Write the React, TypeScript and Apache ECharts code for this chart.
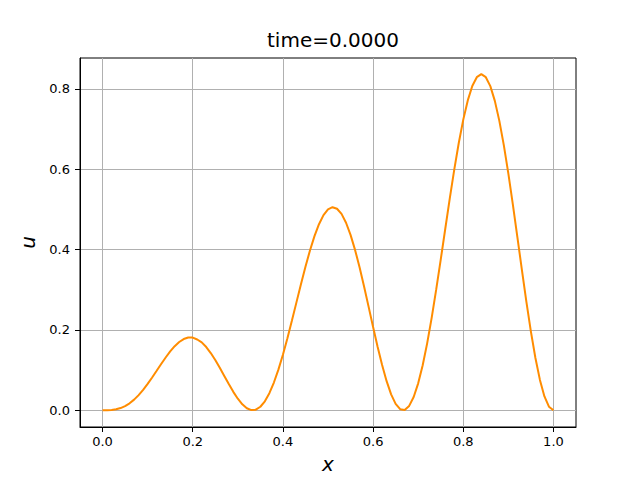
import React, { useEffect, useRef } from "react";
import * as echarts from "echarts";

const xValues = [
  0.00, 0.01, 0.02, 0.03, 0.04, 0.05, 0.06, 0.07, 0.08, 0.09,
  0.10, 0.11, 0.12, 0.13, 0.14, 0.15, 0.16, 0.17, 0.18, 0.19,
  0.20, 0.21, 0.22, 0.23, 0.24, 0.25, 0.26, 0.27, 0.28, 0.29,
  0.30, 0.31, 0.32, 0.33, 0.34, 0.35, 0.36, 0.37, 0.38, 0.39,
  0.40, 0.41, 0.42, 0.43, 0.44, 0.45, 0.46, 0.47, 0.48, 0.49,
  0.50, 0.51, 0.52, 0.53, 0.54, 0.55, 0.56, 0.57, 0.58, 0.59,
  0.60, 0.61, 0.62, 0.63, 0.64, 0.65, 0.66, 0.67, 0.68, 0.69,
  0.70, 0.71, 0.72, 0.73, 0.74, 0.75, 0.76, 0.77, 0.78, 0.79,
  0.80, 0.81, 0.82, 0.83, 0.84, 0.85, 0.86, 0.87, 0.88, 0.89,
  0.90, 0.91, 0.92, 0.93, 0.94, 0.95, 0.96, 0.97, 0.98, 0.99,
  1.00,
];
const uValues = [
  0.0000, 0.0001, 0.0007, 0.0023, 0.0054, 0.0103, 0.0172, 0.0263, 0.0375, 0.0506,
  0.0655, 0.0815, 0.0982, 0.1151, 0.1313, 0.1463, 0.1594, 0.1698, 0.1772, 0.1809,
  0.1809, 0.1761, 0.1689, 0.1573, 0.1424, 0.1250, 0.1056, 0.0853, 0.0650, 0.0457,
  0.0287, 0.0148, 0.0050, 0.0003, 0.0013, 0.0086, 0.0222, 0.0424, 0.0689, 0.1010,
  0.1382, 0.1793, 0.2232, 0.2685, 0.3137, 0.3573, 0.3977, 0.4334, 0.4632, 0.4857,
  0.5000, 0.5055, 0.5017, 0.4888, 0.4668, 0.4366, 0.3992, 0.3559, 0.3082, 0.2580,
  0.2073, 0.1581, 0.1124, 0.0723, 0.0396, 0.0159, 0.0026, 0.0007, 0.0107, 0.0328,
  0.0669, 0.1120, 0.1671, 0.2306, 0.3007, 0.3750, 0.4512, 0.5268, 0.5990, 0.6654,
  0.7236, 0.7714, 0.8071, 0.8292, 0.8367, 0.8292, 0.8069, 0.7702, 0.7205, 0.6593,
  0.5891, 0.5121, 0.4311, 0.3494, 0.2699, 0.1958, 0.1301, 0.0755, 0.0344, 0.0088,
  0.0000,
];
const xTicks = [0, 0.2, 0.4, 0.6, 0.8, 1.0];
const yTicks = [0, 0.2, 0.4, 0.6, 0.8];
const titleText = "time=0.0000";

const FONT = "DejaVu Sans";

export default function App() {
  const ref = useRef<HTMLDivElement>(null);
  useEffect(() => {
    if (!ref.current) return;
    const chart = echarts.init(ref.current, undefined, { renderer: "svg" });
    const data = xValues.map((x, i) => [x, uValues[i]]);
    chart.setOption({
      animation: false,
      backgroundColor: "#ffffff",
      title: {
        text: titleText,
        left: 328,
        top: 25,
        textAlign: "center",
        textStyle: { fontFamily: FONT, fontSize: 20, fontWeight: "normal", color: "#000" },
      },
      grid: {
        left: 80,
        top: 58,
        width: 496,
        height: 369,
        containLabel: false,
        outerBoundsMode: "none",
        show: true,
        borderColor: "#000",
        borderWidth: 1,
        backgroundColor: "transparent",
      },
      xAxis: {
        type: "value",
        min: -0.05,
        max: 1.05,
        name: "x",
        nameLocation: "middle",
        nameGap: 27,
        nameTextStyle: { fontFamily: FONT, fontSize: 20, fontStyle: "italic", color: "#000" },
        axisLine: { show: true, onZero: false, lineStyle: { color: "#000", width: 1 } },
        axisTick: { show: true, inside: false, length: 5, customValues: xTicks, lineStyle: { color: "#000", width: 1 } },
        axisLabel: {
          customValues: xTicks,
          formatter: (v: number) => v.toFixed(1),
          fontFamily: FONT,
          fontSize: 13,
          color: "#000",
          margin: 8,
        },
        splitLine: { show: true, lineStyle: { color: "#b0b0b0", width: 1 } },
      },
      yAxis: {
        type: "value",
        min: -0.0418,
        max: 0.877,
        name: "u",
        nameLocation: "middle",
        nameGap: 38,
        nameRotate: 90,
        nameTextStyle: { fontFamily: FONT, fontSize: 20, fontStyle: "italic", color: "#000" },
        axisLine: { show: true, onZero: false, lineStyle: { color: "#000", width: 1 } },
        axisTick: { show: true, inside: false, length: 5, customValues: yTicks, lineStyle: { color: "#000", width: 1 } },
        axisLabel: {
          customValues: yTicks,
          formatter: (v: number) => v.toFixed(1),
          fontFamily: FONT,
          fontSize: 13,
          color: "#000",
          margin: 10,
        },
        splitLine: { show: true, lineStyle: { color: "#b0b0b0", width: 1 } },
      },
      series: [
        {
          type: "line",
          data,
          showSymbol: false,
          smooth: false,
          lineStyle: { color: "#ff8c00", width: 2 },
          itemStyle: { color: "#ff8c00" },
        },
      ],
    });
    return () => chart.dispose();
  }, []);
  return (
    <div
      ref={ref}
      style={{ position: "fixed", left: 0, top: 0, width: 640, height: 480 }}
    />
  );
}
